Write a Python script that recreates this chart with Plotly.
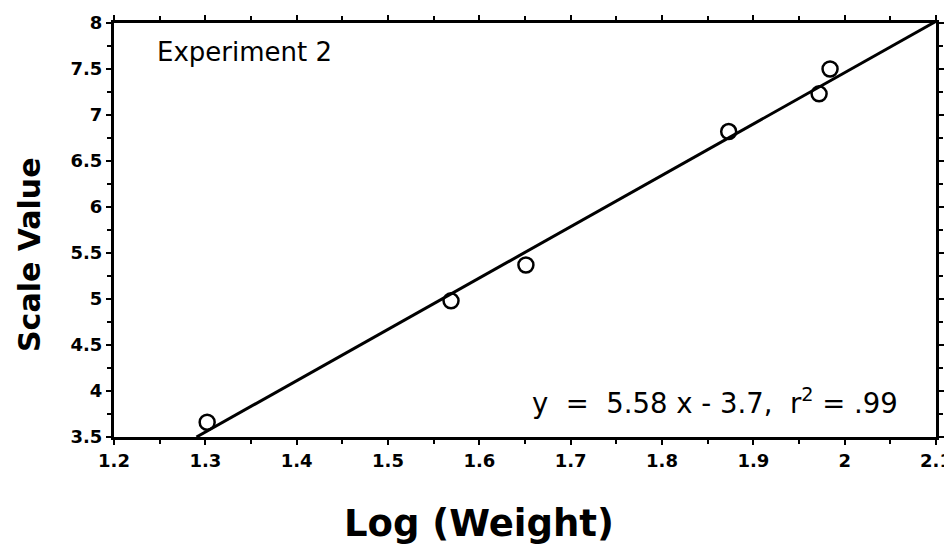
import plotly.graph_objects as go

log_weight = [1.302, 1.569, 1.651, 1.873, 1.972, 1.984]
scale_value = [3.66, 4.98, 5.37, 6.82, 7.23, 7.50]
slope = 5.58
intercept = -3.7
x_ticks = [1.2, 1.3, 1.4, 1.5, 1.6, 1.7, 1.8, 1.9, 2.0, 2.1]
x_tick_labels = ["1.2", "1.3", "1.4", "1.5", "1.6", "1.7", "1.8", "1.9", "2", "2.1"]
y_ticks = [3.5, 4, 4.5, 5, 5.5, 6, 6.5, 7, 7.5, 8]
y_tick_labels = ["3.5", "4", "4.5", "5", "5.5", "6", "6.5", "7", "7.5", "8"]

x_start = (3.5 - intercept) / slope
x_end = 2.1
fit_x = [x_start, x_end]
fit_y = [slope * v + intercept for v in fit_x]

fig = go.Figure()
fig.add_trace(go.Scatter(x=fit_x, y=fit_y, mode="lines",
                         line=dict(color="black", width=3), showlegend=False))
fig.add_trace(go.Scatter(x=log_weight, y=scale_value, mode="markers",
                         marker=dict(symbol="circle-open", size=15, color="black",
                                     line=dict(width=2.5, color="black")),
                         showlegend=False, cliponaxis=False))

axis_common = dict(showgrid=False, zeroline=False, showline=True, linecolor="black",
                   linewidth=3, mirror="allticks", ticks="outside", ticklen=5,
                   tickwidth=2, tickcolor="black", automargin=False,
                   tickfont=dict(family="DejaVu Sans", size=18, color="black", weight="bold"))

fig.update_xaxes(range=[1.2, 2.1], tickvals=x_ticks, ticktext=x_tick_labels,
                 minor=dict(dtick=0.05, tick0=1.2, ticks="outside", ticklen=4,
                            tickwidth=2, tickcolor="black"),
                 ticklabelstandoff=0, **axis_common)
fig.update_yaxes(range=[3.5, 8], tickvals=y_ticks, ticktext=y_tick_labels,
                 minor=dict(dtick=0.25, tick0=3.5, ticks="outside", ticklen=4,
                            tickwidth=2, tickcolor="black"),
                 ticklabelstandoff=0, **axis_common)

# plot area in page pixels: x 114..936, y 23..437 (page has an 8px body offset)
def px(x):
    return (x - 114) / 822

def py(y):
    return (437 - y) / 414

NB = "\u00a0"
eq_text = ("y" + NB * 2 + "=" + NB * 2 + "5.58" + NB + "x" + NB + "-" + NB + "3.7," + NB * 2
           + "r<sup>2</sup>" + NB + "=" + NB + ".99")

fig.add_annotation(text="<b>Log (Weight)</b>", xref="paper", yref="paper",
                   x=px(479), y=py(523), xanchor="center", yanchor="middle",
                   showarrow=False, font=dict(family="DejaVu Sans", size=37, color="black"))
fig.add_annotation(text="<b>Scale Value</b>", xref="paper", yref="paper",
                   x=px(29), y=py(255), xanchor="center", yanchor="middle",
                   textangle=-90, showarrow=False,
                   font=dict(family="DejaVu Sans", size=30, color="black"))
fig.add_annotation(text="Experiment 2", xref="paper", yref="paper",
                   x=px(155), y=py(52), xanchor="left", yanchor="middle",
                   showarrow=False, font=dict(family="DejaVu Sans", size=26, color="black"))
fig.add_annotation(text=eq_text, xref="paper", yref="paper",
                   x=px(900), y=py(401), xanchor="right", yanchor="middle",
                   showarrow=False, font=dict(family="DejaVu Sans", size=27.5, color="black"))

fig.update_layout(width=944, height=537, margin=dict(l=106, r=16, t=15, b=108),
                  plot_bgcolor="white", paper_bgcolor="white")
fig.write_html("out.html")
